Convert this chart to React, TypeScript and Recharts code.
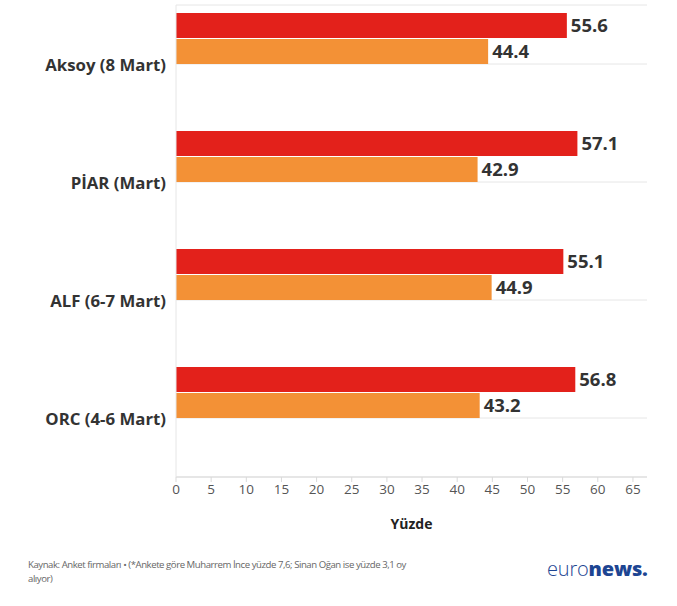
import React from 'react';
import { BarChart, Bar, XAxis, YAxis, CartesianGrid, LabelList } from 'recharts';

const categories = ['Aksoy (8 Mart)', 'PİAR (Mart)', 'ALF (6-7 Mart)', 'ORC (4-6 Mart)'];
const seriesA = [55.6, 57.1, 55.1, 56.8];
const seriesB = [44.4, 42.9, 44.9, 43.2];
const xTicks = [0, 5, 10, 15, 20, 25, 30, 35, 40, 45, 50, 55, 60, 65];

const data = categories.map((c, i) => ({ name: c, a: seriesA[i], b: seriesB[i] }));

const FONT = '"Open Sans", "Noto Sans", sans-serif';

export default function App() {
  return (
    <div style={{ position: 'absolute', left: 0, top: 0, width: 677, height: 606, background: '#fff', fontFamily: FONT }}>
      <BarChart
        layout="vertical"
        width={677}
        height={540}
        data={data}
        margin={{ top: 5, right: 30, left: 0, bottom: 3 }}
        barGap={1}
        barCategoryGap={7}
      >
        <CartesianGrid vertical={false} stroke="#e6e6e6" />
        <XAxis
          type="number"
          domain={[0, 67]}
          ticks={xTicks}
          interval={0}
          height={60}
          axisLine={{ stroke: '#d9d9d9' }}
          tickLine={{ stroke: '#d9d9d9' }}
          tickSize={5}
          tick={{ fill: '#555', fontSize: 13.5, fontFamily: FONT }}
          label={{ value: 'Yüzde', position: 'insideBottom', offset: 8, fill: '#222', fontSize: 14, fontWeight: 700, fontFamily: FONT }}
        />
        <YAxis
          type="category"
          dataKey="name"
          width={176}
          axisLine={{ stroke: '#e6e6e6' }}
          tickLine={false}
          tickMargin={4}
          tick={{ fill: '#333', fontSize: 16.8, fontWeight: 700, fontFamily: FONT, dy: 1 }}
        />
        <Bar dataKey="a" fill="#e3211b" barSize={25} isAnimationActive={false}>
          <LabelList dataKey="a" position="right" offset={4} fill="#333" fontSize={18.5} fontWeight={700} fontFamily={FONT} />
        </Bar>
        <Bar dataKey="b" fill="#f39136" barSize={25} isAnimationActive={false}>
          <LabelList dataKey="b" position="right" offset={4} fill="#333" fontSize={18.5} fontWeight={700} fontFamily={FONT} />
        </Bar>
        <Bar dataKey="pad1" fill="transparent" barSize={25} isAnimationActive={false} />
        <Bar dataKey="pad2" fill="transparent" barSize={25} isAnimationActive={false} />
      </BarChart>
      <div style={{ position: 'absolute', left: 28, top: 558, whiteSpace: 'nowrap', fontSize: 9.6, letterSpacing: '-0.45px', lineHeight: '14px', color: '#666', fontFamily: FONT }}>
        Kaynak: Anket firmaları • (*Ankete göre Muharrem İnce yüzde 7,6; Sinan Oğan ise yüzde 3,1 oy
        <br />
        alıyor)
      </div>
      <div style={{ position: 'absolute', left: 547, top: 556, fontSize: 20, lineHeight: '26px', color: '#1d4592', fontFamily: FONT, letterSpacing: '-0.2px' }}>
        <span style={{ fontWeight: 300 }}>euro</span><span style={{ fontWeight: 800 }}>news.</span>
      </div>
    </div>
  );
}
